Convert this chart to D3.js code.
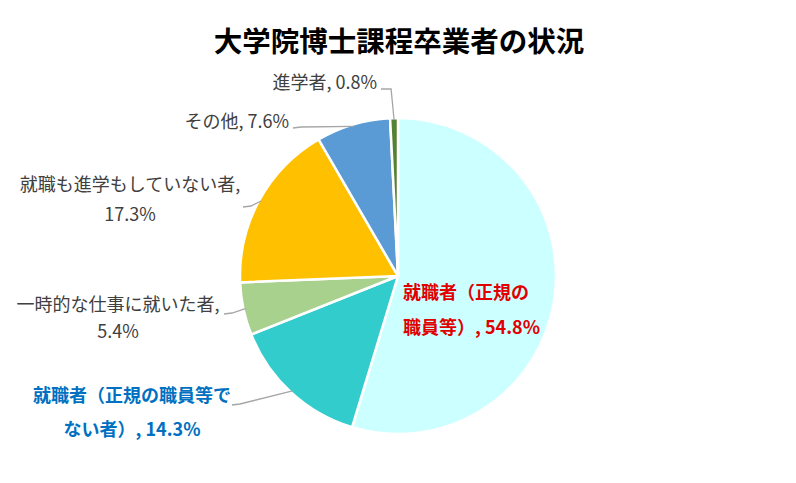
<!DOCTYPE html>
<html>
<head>
<meta charset="utf-8">
<script src="https://cdnjs.cloudflare.com/ajax/libs/d3/7.8.5/d3.min.js"></script>
<style>
  body { margin: 0; background: #fff; }
  text { font-family: "Noto Sans CJK JP", "Noto Sans", sans-serif; }
  .lbl { font-size: 18px; fill: #404040; }
  .title { font-size: 28.5px; font-weight: bold; fill: #000; }
</style>
</head>
<body>
<svg id="chart" width="796" height="483"></svg>
<script>
// data, clockwise from 12 o'clock
var categories = ["就職者（正規の職員等）", "就職者（正規の職員等でない者）", "一時的な仕事に就いた者",
                  "就職も進学もしていない者", "その他", "進学者"];
var values = [54.8, 14.3, 5.4, 17.3, 7.6, 0.8];
var colors = ["#CCFFFF", "#33CCCC", "#A9D18E", "#FFC000", "#5B9BD5", "#548235"];

// label text lines and layout
var labels = [
  { lines: ["就職者（正規の", "職員等）, 54.8%"], x: 403, y: 299, anchor: "start", fill: "#E00000", bold: true, gap: 35 },
  { lines: ["就職者（正規の職員等で", "ない者）, 14.3%"], x: 132, y: 402, anchor: "middle", fill: "#0070C0", bold: true, gap: 34, lead: [232, 405] },
  { lines: ["一時的な仕事に就いた者,", "5.4%"], x: 118, y: 311, anchor: "middle", fill: "#404040", gap: 27, lead: [224, 314] },
  { lines: ["就職も進学もしていない者,", "17.3%"], x: 130, y: 191, anchor: "middle", fill: "#404040", gap: 30, lead: [243, 207] },
  { lines: ["その他, 7.6%"], x: 289, y: 128, anchor: "end", fill: "#404040", gap: 0, lead: [293, 128] },
  { lines: ["進学者, 0.8%"], x: 377, y: 89, anchor: "end", fill: "#404040", gap: 0, lead: [381, 89] }
];

var svg = d3.select("#chart");
var cx = 398, cy = 276, r = 158;

svg.append("text").attr("class", "title")
  .attr("x", 399).attr("y", 52).attr("text-anchor", "middle")
  .text("大学院博士課程卒業者の状況");

var pie = d3.pie().sort(null).value(d => d);
var arcs = pie(values);
var arc = d3.arc().innerRadius(0).outerRadius(r);

var g = svg.append("g").attr("transform", `translate(${cx},${cy})`);

g.selectAll("path").data(arcs).enter().append("path")
  .attr("d", arc)
  .attr("fill", (d, i) => colors[i])
  .attr("stroke", "#fff")
  .attr("stroke-width", 2.5)
  .attr("stroke-linejoin", "round");

// leader lines
arcs.forEach((a, i) => {
  var L = labels[i];
  if (!L.lead) return;
  var mid = (a.startAngle + a.endAngle) / 2;
  var ex = cx + (r - 2) * Math.sin(mid), ey = cy - (r - 2) * Math.cos(mid);
  var pts;
  if (i === 5) pts = [[L.lead[0], L.lead[1]], [ex - 3, L.lead[1]], [ex, ey]];
  else pts = [[L.lead[0], L.lead[1]], [L.lead[0] + 8, L.lead[1] - 1], [ex, ey]];
  svg.append("path")
    .attr("d", d3.line()(pts))
    .attr("fill", "none")
    .attr("stroke", "#A6A6A6")
    .attr("stroke-width", 1.3);
});

// labels
labels.forEach(L => {
  var t = svg.append("text").attr("class", "lbl")
    .attr("text-anchor", L.anchor)
    .style("fill", L.fill)
    .style("font-weight", L.bold ? "bold" : "normal");
  L.lines.forEach((s, j) => {
    t.append("tspan").attr("x", L.x).attr("y", L.y + j * L.gap).text(s);
  });
});
</script>
</body>
</html>
